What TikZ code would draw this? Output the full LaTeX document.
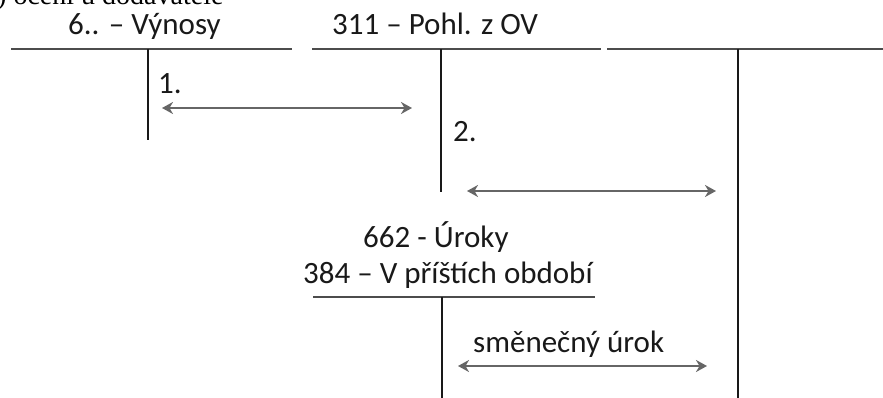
\documentclass[tikz,border=0pt]{standalone}
\usepackage{fontspec}
\setmainfont{Carlito}
\newfontfamily\headfont{Liberation Serif}
\usetikzlibrary{arrows.meta}
\tikzset{
  tline/.style={line width=2.4pt, draw=black!70},
  tstem/.style={line width=2pt, draw=black!90},
  entry/.style={line width=2.6pt, draw=black!60, {Stealth[length=11pt,width=12pt,inset=3.5pt]}-{Stealth[length=11pt,width=12pt,inset=3.5pt]}},
  acctext/.style={anchor=base west, inner sep=0pt, text=black!90, font=\fontsize{31}{38}\selectfont}
}
\begin{document}
\begin{tikzpicture}[x=1pt,y=-1pt]
  \useasboundingbox (0,0) rectangle (883,398);
  % heading line above, cut by the page edge
  \node[anchor=base west, inner sep=0pt] (head) at (-3,5) {\headfont\fontsize{28}{32}\selectfont ) ocení u dodavatele};

  % account 6..
  \node[acctext] (vynosy) at (68,35) {6.. – Výnosy};
  \draw[tline] (11,49) -- (292,49);
  \draw[tstem] (148,49) -- (148,140);

  % account 311
  \node[acctext] (pohl) at (332,35) {311 – Pohl. z OV};
  \draw[tline] (312,49) -- (601,49);
  \draw[tstem] (441,49) -- (441,192);

  % third account, no title
  \draw[tline] (607,49) -- (883,49);
  \draw[tstem] (738,49) -- (738,398);

  % accounts 662 / 384
  \node[acctext] (uroky) at (363,247) {662 - Úroky};
  \node[acctext] (pristi) at (303,283) {384 – V příštích období};
  \draw[tline] (313,297) -- (595,297);
  \draw[tstem] (442,297) -- (442,398);

  % entries
  \node[acctext] (one) at (158,94) {1.};
  \node[acctext] (two) at (453,142) {2.};
  \node[acctext] (urok) at (473,352) {směnečný úrok};

  \coordinate (e1a) at (162,108);
  \coordinate (e1b) at (412,108);
  \coordinate (e2a) at (467,191);
  \coordinate (e2b) at (716,191);
  \coordinate (e3a) at (458,366);
  \coordinate (e3b) at (707,366);
  \draw[entry] (e1a) -- (e1b);
  \draw[entry] (e2a) -- (e2b);
  \draw[entry] (e3a) -- (e3b);
\end{tikzpicture}
\end{document}
